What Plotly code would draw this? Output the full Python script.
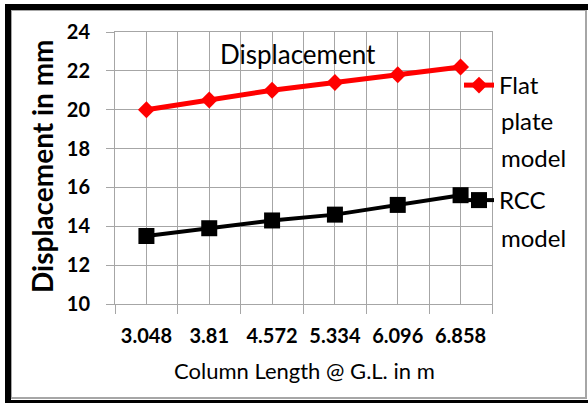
import plotly.graph_objects as go

# ---- data ----
categories = ["3.048", "3.81", "4.572", "5.334", "6.096", "6.858"]
flat_plate = [20.0, 20.5, 21.0, 21.4, 21.8, 22.2]
rcc = [13.5, 13.9, 14.3, 14.6, 15.1, 15.6]
y_ticks = [10, 12, 14, 16, 18, 20, 22, 24]

W, H = 588, 403
L, R, T, B = 115, 96, 32, 99
PW, PH = W - L - R, H - T - B

def px(x):
    return (x - L) / PW

def py(y):
    return (H - B - y) / PH

FONT = "Lato"
GRID = "#a6a6a6"
xs = list(range(len(categories)))

fig = go.Figure()
fig.add_trace(go.Scatter(
    x=xs, y=flat_plate, name="Flat", mode="lines+markers",
    line=dict(color="#ff0000", width=5),
    marker=dict(symbol="diamond", size=13, color="#ff0000"),
    legend="legend"))
fig.add_trace(go.Scatter(
    x=xs, y=rcc, name="RCC", mode="lines+markers",
    line=dict(color="#000000", width=4),
    marker=dict(symbol="square", size=16, color="#000000"),
    legend="legend2"))

def ann(text, x, y, size, anchor="center", angle=0):
    return dict(text=text, x=px(x), y=py(y), xref="paper", yref="paper",
                showarrow=False, xanchor=anchor, yanchor="middle", textangle=angle,
                font=dict(size=size, family=FONT, color="black"))

fig.update_layout(
    width=W, height=H,
    margin=dict(l=L, r=R, t=T, b=B, pad=0),
    paper_bgcolor="white", plot_bgcolor="white",
    font=dict(family=FONT, color="black", size=20),
    showlegend=True,
    legend=dict(x=px(459), y=py(63), xanchor="left", yanchor="top",
                font=dict(size=24, family=FONT, color="black"),
                bgcolor="rgba(0,0,0,0)", borderwidth=0, valign="top"),
    legend2=dict(x=px(459), y=py(178), xanchor="left", yanchor="top",
                 font=dict(size=24, family=FONT, color="black"),
                 bgcolor="rgba(0,0,0,0)", borderwidth=0, valign="top"),
    xaxis=dict(
        range=[-0.5, len(categories) - 0.5],
        tickvals=xs, ticktext=categories, tickangle=0,
        ticks="", showgrid=True, gridcolor=GRID, gridwidth=1,
        showline=True, linecolor=GRID, linewidth=1, mirror=True,
        zeroline=False,
        tickfont=dict(size=20, family=FONT, color="black", weight="bold"),
        ticklabelstandoff=14,
        minor=dict(tick0=-0.5, dtick=1, ticks="outside", ticklen=9,
                   tickcolor=GRID, showgrid=True, gridcolor=GRID, gridwidth=1),
    ),
    yaxis=dict(
        range=[10, 24], tickvals=y_ticks,
        ticks="outside", ticklen=8, tickcolor=GRID,
        showgrid=True, gridcolor=GRID, gridwidth=1,
        showline=True, linecolor=GRID, linewidth=1, mirror=True,
        zeroline=False,
        tickfont=dict(size=20, family=FONT, color="black", weight="bold"),
        ticklabelstandoff=12,
    ),
    annotations=[
        ann("Displacement", 298, 54, 26),
        ann("<b>Displacement in mm</b>", 42, 166, 28, angle=-90),
        ann("Column Length @ G.L. in m", 304, 370, 22),
        ann("plate", 499, 121, 24, anchor="left"),
        ann("model", 499, 157, 24, anchor="left"),
        ann("model", 499, 237, 24, anchor="left"),
    ],
    shapes=[
        dict(type="rect", xref="paper", yref="paper",
             x0=px(11), x1=px(586), y0=py(398), y1=py(10),
             line=dict(color="#a6a6a6", width=2), fillcolor="rgba(0,0,0,0)"),
        dict(type="rect", xref="paper", yref="paper",
             x0=px(5), x1=px(11), y0=py(403), y1=py(4),
             line=dict(width=0), fillcolor="black"),
        dict(type="rect", xref="paper", yref="paper",
             x0=px(5), x1=px(588), y0=py(10), y1=py(4),
             line=dict(width=0), fillcolor="black"),
        dict(type="rect", xref="paper", yref="paper",
             x0=px(5), x1=px(588), y0=py(403), y1=py(400),
             line=dict(width=0), fillcolor="black"),
    ],
)

fig.write_html("out.html")
